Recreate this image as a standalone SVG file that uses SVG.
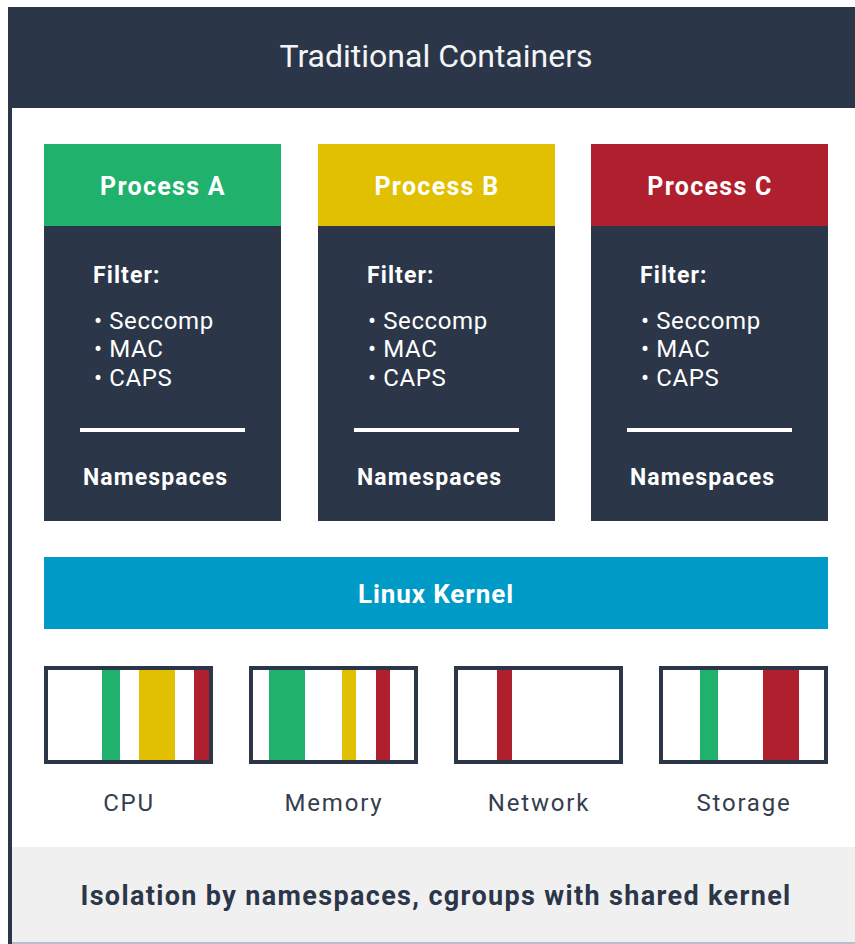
<svg xmlns="http://www.w3.org/2000/svg" width="855" height="944" viewBox="0 0 855 944">
  <style>
    text { font-family: Roboto, "Liberation Sans", sans-serif; }
    .navy { fill: #2b3649; }
    .title { fill: #f4f5f7; font-size: 32px; text-anchor: middle; }
    .proc { fill: #ffffff; font-size: 25px; font-weight: bold; text-anchor: middle; letter-spacing: 1.3px; }
    .head { fill: #ffffff; font-size: 23px; font-weight: bold; letter-spacing: 1.1px; }
    .item { fill: #ffffff; font-size: 24px; letter-spacing: 0.6px; }
    .kernel { fill: #ffffff; font-size: 26px; font-weight: bold; text-anchor: middle; letter-spacing: 0.9px; }
    .res { fill: #343e4e; font-size: 24px; text-anchor: middle; letter-spacing: 1.8px; }
    .foot { fill: #2b3649; font-size: 27px; font-weight: bold; text-anchor: middle; letter-spacing: 1.35px; }
    .rbox { fill: none; stroke: #2b3649; stroke-width: 4; }
    .green { fill: #20b26c; }
    .yellow { fill: #e0c000; }
    .red { fill: #b01f2e; }
    .sep { stroke: #ffffff; stroke-width: 4; }
  </style>

  <!-- frame -->
  <rect x="0" y="0" width="855" height="944" fill="#ffffff"/>
  <rect x="8" y="7" width="847" height="101" class="navy"/>
  <rect x="8" y="7" width="4" height="937" class="navy"/>
  <text x="436" y="67" class="title">Traditional Containers</text>

  <!-- process columns -->
  <g id="process-a">
    <rect x="44" y="144" width="237" height="83" class="green"/>
    <rect x="44" y="226" width="237" height="295" class="navy"/>
    <text x="163" y="195" class="proc">Process A</text>
    <text x="93" y="283" class="head">Filter:</text>
    <text x="94" y="329" class="item">• Seccomp</text>
    <text x="94" y="357" class="item">• MAC</text>
    <text x="94" y="386" class="item">• CAPS</text>
    <line x1="80" y1="430" x2="245" y2="430" class="sep"/>
    <text x="83" y="485" class="head">Namespaces</text>
  </g>

  <g id="process-b">
    <rect x="318" y="144" width="237" height="83" class="yellow"/>
    <rect x="318" y="226" width="237" height="295" class="navy"/>
    <text x="437" y="195" class="proc">Process B</text>
    <text x="367" y="283" class="head">Filter:</text>
    <text x="368" y="329" class="item">• Seccomp</text>
    <text x="368" y="357" class="item">• MAC</text>
    <text x="368" y="386" class="item">• CAPS</text>
    <line x1="354" y1="430" x2="519" y2="430" class="sep"/>
    <text x="357" y="485" class="head">Namespaces</text>
  </g>

  <g id="process-c">
    <rect x="591" y="144" width="237" height="83" class="red"/>
    <rect x="591" y="226" width="237" height="295" class="navy"/>
    <text x="710" y="195" class="proc">Process C</text>
    <text x="640" y="283" class="head">Filter:</text>
    <text x="641" y="329" class="item">• Seccomp</text>
    <text x="641" y="357" class="item">• MAC</text>
    <text x="641" y="386" class="item">• CAPS</text>
    <line x1="627" y1="430" x2="792" y2="430" class="sep"/>
    <text x="630" y="485" class="head">Namespaces</text>
  </g>

  <!-- shared kernel -->
  <g id="kernel">
    <rect x="44" y="557" width="784" height="72" fill="#009ac7"/>
    <text x="436" y="603" class="kernel">Linux Kernel</text>
  </g>

  <!-- resource usage boxes -->
  <g id="cpu">
    <rect x="102" y="668" width="18" height="94" class="green"/>
    <rect x="139" y="668" width="36" height="94" class="yellow"/>
    <rect x="194" y="668" width="16" height="94" class="red"/>
    <rect x="46" y="668" width="165" height="94" class="rbox"/>
    <text x="129" y="811" class="res">CPU</text>
  </g>

  <g id="memory">
    <rect x="269" y="668" width="36" height="94" class="green"/>
    <rect x="342" y="668" width="14" height="94" class="yellow"/>
    <rect x="376" y="668" width="14" height="94" class="red"/>
    <rect x="251" y="668" width="165" height="94" class="rbox"/>
    <text x="334" y="811" class="res">Memory</text>
  </g>

  <g id="network">
    <rect x="497" y="668" width="15" height="94" class="red"/>
    <rect x="456" y="668" width="165" height="94" class="rbox"/>
    <text x="539" y="811" class="res">Network</text>
  </g>

  <g id="storage">
    <rect x="700" y="668" width="18" height="94" class="green"/>
    <rect x="763" y="668" width="36" height="94" class="red"/>
    <rect x="661" y="668" width="165" height="94" class="rbox"/>
    <text x="744" y="811" class="res">Storage</text>
  </g>

  <!-- caption band -->
  <rect x="12" y="847" width="843" height="95" fill="#f0f0f0"/>
  <rect x="12" y="942" width="843" height="2" fill="#b8c0cc"/>
  <text x="436" y="905" class="foot">Isolation by namespaces, cgroups with shared kernel</text>
</svg>
